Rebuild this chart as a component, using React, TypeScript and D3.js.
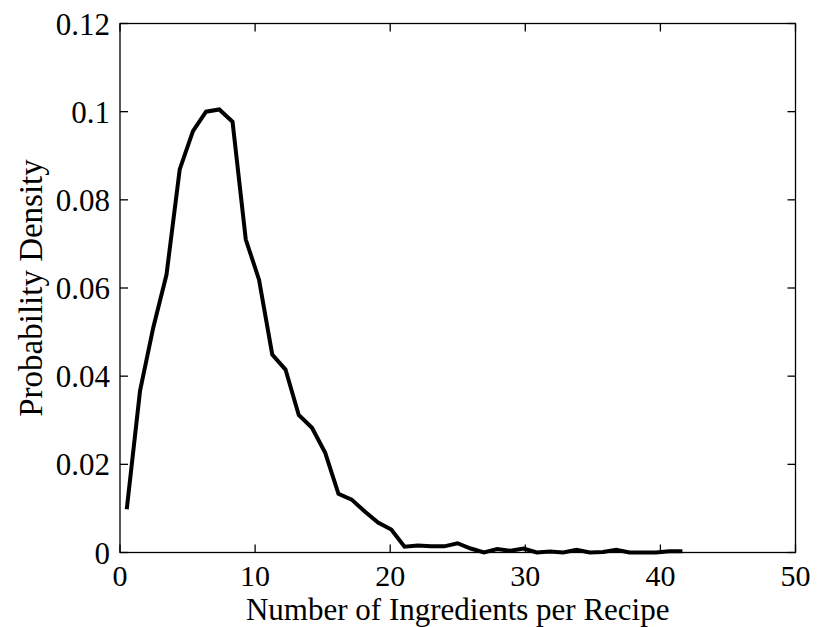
import React from "react";
import * as d3 from "d3";

const ingredientCounts = [
  0.5, 1.48, 2.46, 3.44, 4.42, 5.4, 6.37, 7.35, 8.33, 9.31, 10.29, 11.27, 12.25, 13.23,
  14.21, 15.19, 16.17, 17.15, 18.12, 19.1, 20.08, 21.06, 22.04, 23.02, 24.0, 24.98,
  25.96, 26.94, 27.92, 28.9, 29.87, 30.85, 31.83, 32.81, 33.79, 34.77, 35.75, 36.73,
  37.71, 38.69, 39.67, 40.65, 41.63,
];
const densities = [
  0.0098, 0.0366, 0.051, 0.063, 0.0869, 0.0956, 0.1, 0.1005, 0.0977, 0.071, 0.0619,
  0.0449, 0.0415, 0.0312, 0.0283, 0.0226, 0.0133, 0.012, 0.0093, 0.0068, 0.0052, 0.0013,
  0.0016, 0.0014, 0.0014, 0.0021, 0.0009, 0.0, 0.0008, 0.0004, 0.0009, 0.0, 0.0002, 0.0,
  0.0006, 0.0, 0.0001, 0.0006, 0.0, 0.0, 0.0, 0.0003, 0.0003,
];
const xTicks = [0, 10, 20, 30, 40, 50];
const yTicks = [0, 0.02, 0.04, 0.06, 0.08, 0.1, 0.12];
const xLabel = "Number of Ingredients per Recipe";
const yLabel = "Probability Density";

export default function App() {
  const W = 823;
  const H = 627;
  const left = 120;
  const right = 795.5;
  const top = 23.5;
  const bottom = 552.5;
  const x = d3.scaleLinear().domain([0, 50]).range([left, right]);
  const y = d3.scaleLinear().domain([0, 0.12]).range([bottom, top]);
  const pts: [number, number][] = ingredientCounts.map((v, i) => [v, densities[i]]);
  const line = d3
    .line<[number, number]>()
    .x((d) => x(d[0]))
    .y((d) => y(d[1]));
  const font = "'Liberation Serif', 'Times New Roman', serif";
  const tl = 8;
  return (
    <svg
      width={W}
      height={H}
      style={{ position: "absolute", left: 0, top: 0, background: "#fff" }}
    >
      <rect x={0} y={0} width={W} height={H} fill="#fff" />
      <path d={line(pts) || ""} fill="none" stroke="#000" strokeWidth={4} strokeLinejoin="miter" />
      <rect x={left} y={top} width={right - left} height={bottom - top} fill="none" stroke="#000" strokeWidth={1.3} />
      {xTicks.map((t) => (
        <g key={"x" + t}>
          <line x1={x(t)} x2={x(t)} y1={bottom} y2={bottom - tl} stroke="#000" strokeWidth={1.3} />
          <line x1={x(t)} x2={x(t)} y1={top} y2={top + tl} stroke="#000" strokeWidth={1.3} />
          <text x={x(t)} y={586} textAnchor="middle" fontFamily={font} fontSize={30} fill="#000">
            {t}
          </text>
        </g>
      ))}
      {yTicks.map((t) => (
        <g key={"y" + t}>
          <line x1={left} x2={left + tl} y1={y(t)} y2={y(t)} stroke="#000" strokeWidth={1.3} />
          <line x1={right} x2={right - tl} y1={y(t)} y2={y(t)} stroke="#000" strokeWidth={1.3} />
          <text x={110} y={y(t) + 11} textAnchor="end" fontFamily={font} fontSize={31} fill="#000">
            {t}
          </text>
        </g>
      ))}
      <text x={(left + right) / 2} y={620} textAnchor="middle" fontFamily={font} fontSize={31} fill="#000">
        {xLabel}
      </text>
      <text
        transform={`translate(42, ${(top + bottom) / 2}) rotate(-90)`}
        textAnchor="middle"
        fontFamily={font}
        fontSize={33}
        fill="#000"
      >
        {yLabel}
      </text>
    </svg>
  );
}
